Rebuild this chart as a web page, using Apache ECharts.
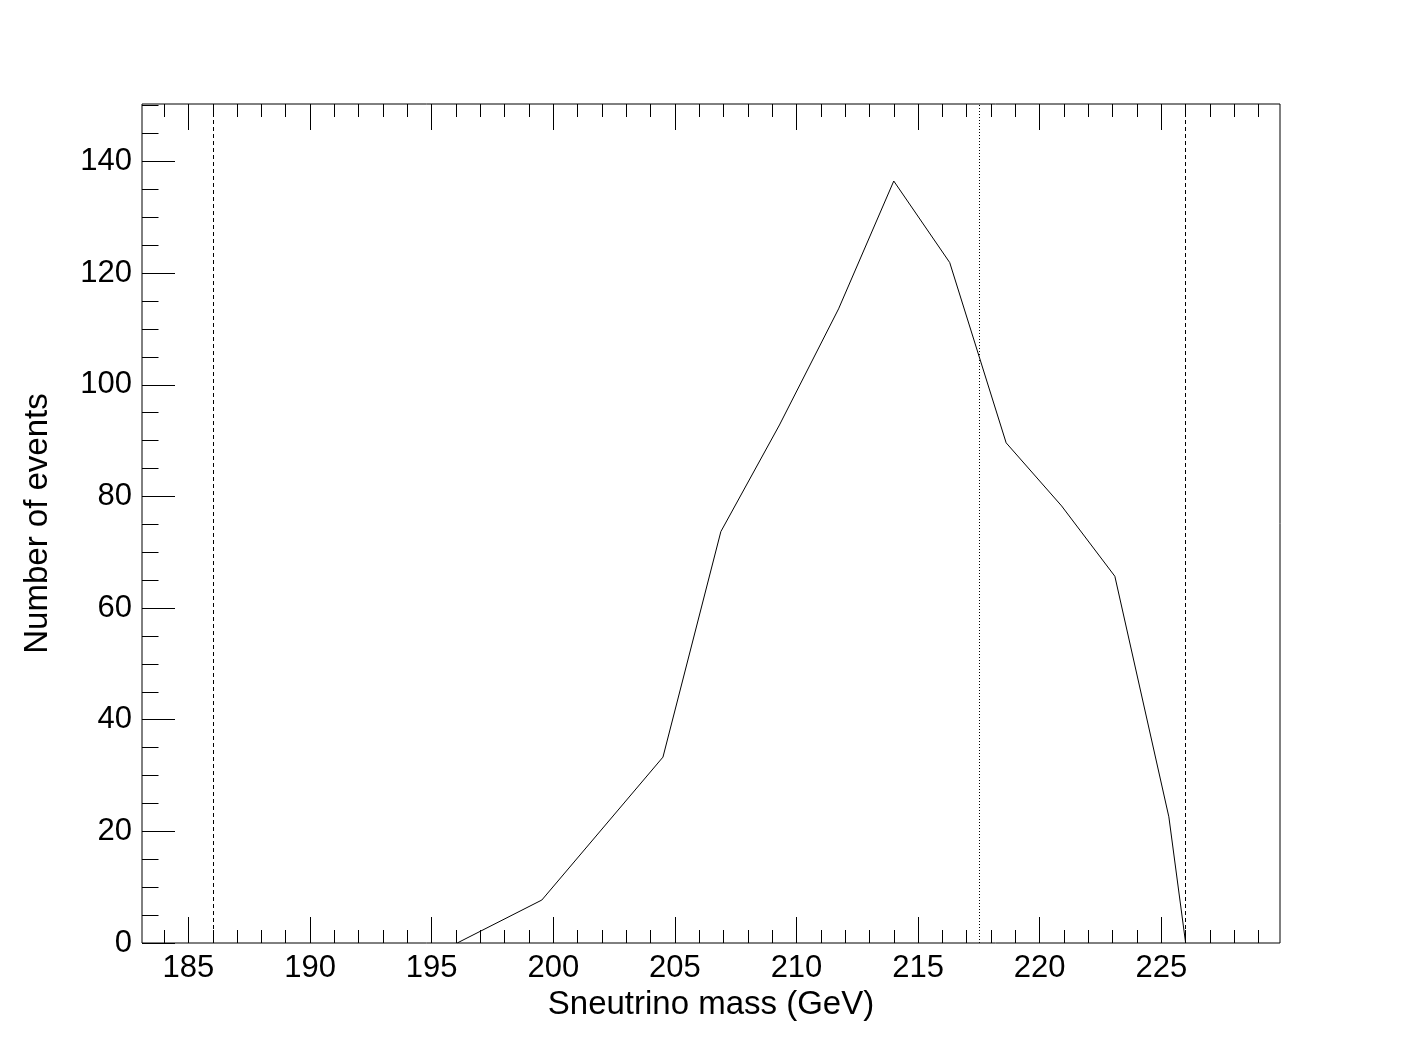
<!DOCTYPE html>
<html>
<head>
<meta charset="utf-8">
<script src="https://cdn.jsdelivr.net/npm/echarts@6/dist/echarts.min.js"></script>
<style>
html,body{margin:0;padding:0;background:#fff;}
#chart{width:1423px;height:1049px;}
</style>
</head>
<body>
<div id="chart"></div>
<script>
// ---- data ----
const massValues = [196.05, 199.53, 204.51, 206.89, 209.3, 211.73, 214.0, 216.30, 218.62, 220.90, 223.09, 225.31, 226.0];
const eventCounts = [0, 7.7, 33.3, 73.7, 92.8, 113.6, 136.5, 121.9, 89.6, 78.3, 65.7, 22.6, 0];
const cutValues = [186, 217.5, 226];
const xMajorTicks = [185, 190, 195, 200, 205, 210, 215, 220, 225];
const xMinorTicks = [184,186,187,188,189,191,192,193,194,196,197,198,199,201,202,203,204,206,207,208,209,211,212,213,214,216,217,218,219,221,222,223,224,226,227,228,229];
const yMajorTicks = [0, 20, 40, 60, 80, 100, 120, 140];
const yMinorTicks = [5,10,15,25,30,35,45,50,55,65,70,75,85,90,95,105,110,115,125,130,135,145,150];
const xMin = 183.09, xMax = 229.88;
const yMin = 0, yMax = 150.3;
const xTitle = 'Sneutrino mass (GeV)';
const yTitle = 'Number of events';

// ---- chart ----
const FONT = "'Liberation Sans', Arial, Helvetica, sans-serif";
const chart = echarts.init(document.getElementById('chart'), null, {renderer: 'canvas'});

function xAxisDef(pos, ticks, len, withLabels) {
  return {
    type: 'value', min: xMin, max: xMax, position: pos, gridIndex: 0,
    axisLine: {show: false, onZero: false},
    axisTick: {show: true, inside: true, length: len, customValues: ticks, lineStyle: {color: '#000', width: 1}},
    axisLabel: withLabels ? {show: true, customValues: ticks, color: '#000', fontSize: 31, fontFamily: FONT, margin: 10} : {show: false},
    splitLine: {show: false},
    name: withLabels ? xTitle : '',
    nameLocation: 'middle', nameGap: 42,
    nameTextStyle: {color: '#000', fontSize: 33, fontFamily: FONT}
  };
}
function yAxisDef(ticks, len, withLabels) {
  return {
    type: 'value', min: yMin, max: yMax, position: 'left', gridIndex: 0,
    axisLine: {show: false, onZero: false},
    axisTick: {show: true, inside: true, length: len, customValues: ticks, lineStyle: {color: '#000', width: 1}},
    axisLabel: withLabels ? {show: true, customValues: ticks, color: '#000', fontSize: 31, fontFamily: FONT, margin: 10} : {show: false},
    splitLine: {show: false},
    name: withLabels ? yTitle : '',
    nameLocation: 'middle', nameGap: 88,
    nameTextStyle: {color: '#000', fontSize: 33, fontFamily: FONT}
  };
}

const option = {
  animation: false,
  backgroundColor: '#fff',
  grid: {left: 142, right: 143, top: 104, bottom: 106, show: true, borderColor: '#000', borderWidth: 1, backgroundColor: 'transparent'},
  xAxis: [
    xAxisDef('bottom', xMajorTicks, 26, true),
    xAxisDef('bottom', xMinorTicks, 13, false),
    xAxisDef('top', xMajorTicks, 26, false),
    xAxisDef('top', xMinorTicks, 13, false)
  ],
  yAxis: [
    yAxisDef(yMajorTicks, 33, true),
    yAxisDef(yMinorTicks, 16.5, false)
  ],
  series: [{
    type: 'line',
    xAxisIndex: 0, yAxisIndex: 0,
    data: massValues.map((m, i) => [m, eventCounts[i]]),
    symbol: 'none',
    lineStyle: {color: '#000', width: 1},
    silent: true,
    markLine: {
      silent: true,
      symbol: ['none', 'none'],
      label: {show: false},
      data: cutValues.map((v, i) => ({
        xAxis: v,
        lineStyle: {color: '#000', width: 1, type: i === 1 ? [1, 2] : [4, 3]}
      }))
    }
  }]
};
chart.setOption(option);
</script>
</body>
</html>
